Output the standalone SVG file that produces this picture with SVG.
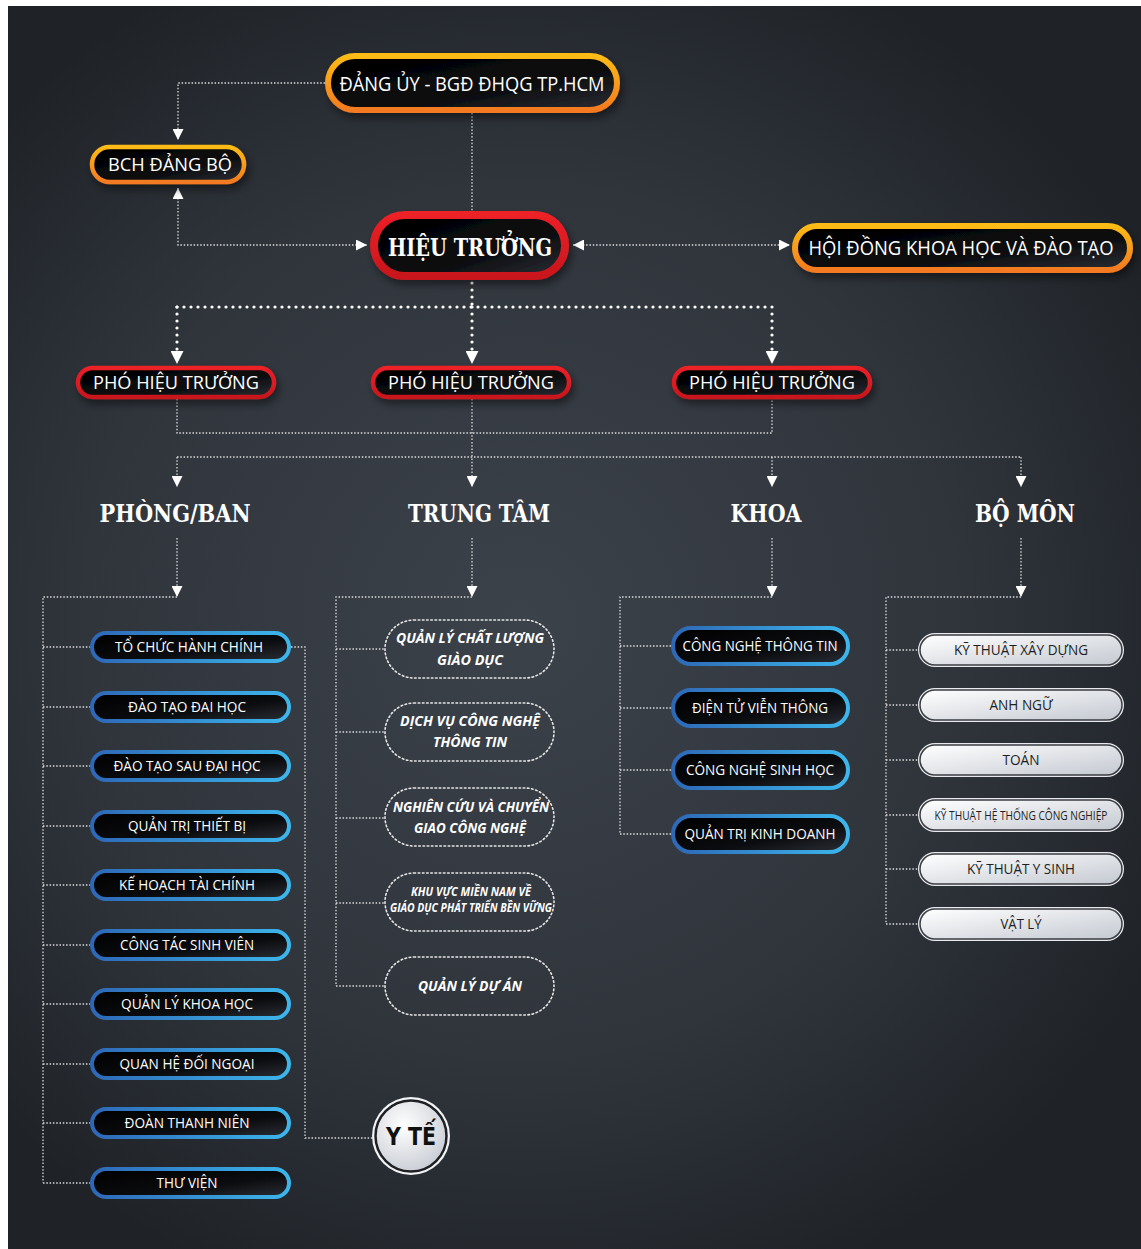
<svg xmlns="http://www.w3.org/2000/svg" width="1141" height="1249" viewBox="0 0 1141 1249">
<defs>
<radialGradient id="bg" cx="520" cy="620" r="720" gradientUnits="userSpaceOnUse">
<stop offset="0" stop-color="#3c424a"/><stop offset="0.6" stop-color="#30353c"/><stop offset="1" stop-color="#1f2328"/>
</radialGradient>
<linearGradient id="gOr" x1="0" y1="0" x2="0" y2="1"><stop offset="0" stop-color="#fdbb16"/><stop offset="1" stop-color="#f37a20"/></linearGradient>
<linearGradient id="gRed" x1="0" y1="0" x2="0" y2="1"><stop offset="0" stop-color="#ec2027"/><stop offset="1" stop-color="#c8171d"/></linearGradient>
<linearGradient id="gBlue" x1="0" y1="0" x2="1" y2="0"><stop offset="0" stop-color="#2d68b6"/><stop offset="1" stop-color="#3db6ec"/></linearGradient>
<linearGradient id="gBlk" x1="0" y1="0" x2="1" y2="1"><stop offset="0" stop-color="#000"/><stop offset="0.6" stop-color="#0b0c0f"/><stop offset="1" stop-color="#2a2e35"/></linearGradient>
<linearGradient id="gLt" x1="0" y1="0" x2="1" y2="1"><stop offset="0" stop-color="#ffffff"/><stop offset="1" stop-color="#c4c9d1"/></linearGradient>
<radialGradient id="gY" cx="0.4" cy="0.35" r="0.7"><stop offset="0" stop-color="#ffffff"/><stop offset="1" stop-color="#c8ccd3"/></radialGradient>
<filter id="sh" x="-20%" y="-40%" width="140%" height="190%"><feDropShadow dx="3" dy="5" stdDeviation="4" flood-color="#000" flood-opacity="0.45"/></filter>
<marker id="arr" viewBox="0 0 10 10" refX="10" refY="5" markerWidth="11" markerHeight="11" markerUnits="userSpaceOnUse" orient="auto-start-reverse"><path d="M0,0 L10,5 L0,10 z" fill="#fff"/></marker>
<marker id="arrB" viewBox="0 0 10 10" refX="10" refY="5" markerWidth="13" markerHeight="13" markerUnits="userSpaceOnUse" orient="auto-start-reverse"><path d="M0,0 L10,5 L0,10 z" fill="#fff"/></marker>
</defs>
<style>
.t{font-family:"Open Sans","Liberation Sans",sans-serif;fill:#fff;text-anchor:middle}
.tb{font-family:"DejaVu Serif","Liberation Serif",serif;font-weight:bold;fill:#fff;text-anchor:middle}
.ti{font-family:"Open Sans","Liberation Sans",sans-serif;font-style:italic;font-weight:bold;fill:#fff;text-anchor:middle}
.td{font-family:"Open Sans","Liberation Sans",sans-serif;fill:#1d1f23;text-anchor:middle}
.or{fill:url(#gBlk);stroke:url(#gOr);filter:url(#sh)}
.rd{fill:url(#gBlk);stroke:url(#gRed);filter:url(#sh)}
.bl{fill:url(#gBlk);stroke:url(#gBlue);stroke-width:4}
.lt{fill:url(#gLt);stroke:#3a3d42;stroke-width:1.5}
.ltw{fill:none;stroke:#e8eaee;stroke-width:4}
.dp{fill:none;stroke:#e6e6e6;stroke-width:1.6;stroke-dasharray:1.6 2.6;stroke-linecap:round}
.c{fill:none;stroke:#dcdcdc;stroke-width:1.3;stroke-dasharray:1.5 1.8}
.ct{fill:none;stroke:#fff;stroke-width:3.2;stroke-dasharray:0 7;stroke-linecap:round}
.an{fill:none;stroke:none}
</style>
<rect x="0" y="0" width="1141" height="1249" fill="#fff"/>
<rect x="8" y="6" width="1133" height="1243" fill="url(#bg)"/>

<g id="connectors">
<path class="c" d="M325,83 H178 V140" marker-end="url(#arr)"/>
<path class="c" d="M178,188 V245 H367" marker-start="url(#arr)" marker-end="url(#arr)"/>
<path class="c" d="M573,245 H790" marker-start="url(#arr)" marker-end="url(#arr)"/>
<path class="c" d="M472,113 V211"/>
<path class="ct" d="M472,283 V307 M177,307 H772"/>
<path class="ct" d="M177,307 V352"/>
<path class="ct" d="M472,307 V352"/>
<path class="ct" d="M772,307 V352"/>
<path class="an" d="M177,350 V364" marker-end="url(#arrB)"/>
<path class="an" d="M472,350 V364" marker-end="url(#arrB)"/>
<path class="an" d="M772,350 V364" marker-end="url(#arrB)"/>
<path class="c" d="M177,399 V433 H772 V399"/>
<path class="c" d="M472,399 V487" marker-end="url(#arr)"/>
<path class="c" d="M177,457 H1021"/>
<path class="c" d="M177,457 V487" marker-end="url(#arr)"/>
<path class="c" d="M772,457 V487" marker-end="url(#arr)"/>
<path class="c" d="M1021,457 V487" marker-end="url(#arr)"/>
<path class="c" d="M177,538 V597" marker-end="url(#arr)"/>
<path class="c" d="M472,538 V597" marker-end="url(#arr)"/>
<path class="c" d="M772,538 V597" marker-end="url(#arr)"/>
<path class="c" d="M1021,538 V597" marker-end="url(#arr)"/>
<path class="c" d="M177,597 H43 V1183 M43,647 H90 M43,707 H90 M43,766 H90 M43,826 H90 M43,885 H90 M43,945 H90 M43,1004 H90 M43,1064 H90 M43,1123 H90 M43,1183 H90"/>
<path class="c" d="M291,647 H305 V1138 H373"/>
<path class="c" d="M472,597 H336 V986 M336,649 H385 M336,732 H385 M336,818 H385 M336,903 H385 M336,986 H385"/>
<path class="c" d="M772,597 H620 V834 M620,646 H671 M620,708 H671 M620,770 H671 M620,834 H671"/>
<path class="c" d="M1021,597 H886 V924 M886,650 H918 M886,705 H918 M886,760 H918 M886,815 H918 M886,869 H918 M886,924 H918"/>
</g>

<g id="n-danguy"><rect class="or" x="328" y="56" width="289" height="54" rx="27" stroke-width="6"/><text class="t" x="472" y="91" font-size="20" textLength="265" lengthAdjust="spacingAndGlyphs">ĐẢNG ỦY - BGĐ ĐHQG TP.HCM</text></g>
<g id="n-bch"><rect class="or" x="92" y="147" width="152" height="35" rx="17.5" stroke-width="4.5"/><text class="t" x="170" y="171" font-size="19" textLength="124" lengthAdjust="spacingAndGlyphs">BCH ĐẢNG BỘ</text></g>
<g id="n-hieutruong"><rect class="rd" x="374" y="215" width="191" height="61" rx="30.5" stroke-width="8"/><text class="tb" x="470" y="256" font-size="25" textLength="164" lengthAdjust="spacingAndGlyphs">HIỆU TRƯỞNG</text></g>
<g id="n-hoidong"><rect class="or" x="795" y="226" width="335" height="44" rx="22" stroke-width="6"/><text class="t" x="961" y="255" font-size="20" textLength="305" lengthAdjust="spacingAndGlyphs">HỘI ĐỒNG KHOA HỌC VÀ ĐÀO TẠO</text></g>

<g id="n-pho1"><rect class="rd" x="78" y="368" width="196" height="29" rx="14.5" stroke-width="4.5"/><text class="t" x="176" y="389" font-size="18" textLength="166" lengthAdjust="spacingAndGlyphs">PHÓ HIỆU TRƯỞNG</text></g>
<g id="n-pho2"><rect class="rd" x="373" y="368" width="196" height="29" rx="14.5" stroke-width="4.5"/><text class="t" x="471" y="389" font-size="18" textLength="166" lengthAdjust="spacingAndGlyphs">PHÓ HIỆU TRƯỞNG</text></g>
<g id="n-pho3"><rect class="rd" x="674" y="368" width="196" height="29" rx="14.5" stroke-width="4.5"/><text class="t" x="772" y="389" font-size="18" textLength="166" lengthAdjust="spacingAndGlyphs">PHÓ HIỆU TRƯỞNG</text></g>

<g id="h-phongban"><text class="tb" x="175" y="522" font-size="24" textLength="151" lengthAdjust="spacingAndGlyphs">PHÒNG/BAN</text></g>
<g id="h-trungtam"><text class="tb" x="479" y="522" font-size="24" textLength="142" lengthAdjust="spacingAndGlyphs">TRUNG TÂM</text></g>
<g id="h-khoa"><text class="tb" x="766" y="522" font-size="24" textLength="71" lengthAdjust="spacingAndGlyphs">KHOA</text></g>
<g id="h-bomon"><text class="tb" x="1025" y="522" font-size="24" textLength="100" lengthAdjust="spacingAndGlyphs">BỘ MÔN</text></g>

<g id="n-pb1"><rect class="bl" x="92" y="633" width="197" height="28" rx="14"/><text class="t" x="189" y="652" font-size="15" textLength="148" lengthAdjust="spacingAndGlyphs">TỔ CHỨC HÀNH CHÍNH</text></g>
<g id="n-pb2"><rect class="bl" x="92" y="693" width="197" height="28" rx="14"/><text class="t" x="187" y="712" font-size="15" textLength="118" lengthAdjust="spacingAndGlyphs">ĐÀO TẠO ĐAI HỌC</text></g>
<g id="n-pb3"><rect class="bl" x="92" y="752" width="197" height="28" rx="14"/><text class="t" x="187" y="771" font-size="15" textLength="147" lengthAdjust="spacingAndGlyphs">ĐÀO TẠO SAU ĐẠI HỌC</text></g>
<g id="n-pb4"><rect class="bl" x="92" y="812" width="197" height="28" rx="14"/><text class="t" x="187" y="831" font-size="15" textLength="118" lengthAdjust="spacingAndGlyphs">QUẢN TRỊ THIẾT BỊ</text></g>
<g id="n-pb5"><rect class="bl" x="92" y="871" width="197" height="28" rx="14"/><text class="t" x="187" y="890" font-size="15" textLength="136" lengthAdjust="spacingAndGlyphs">KẾ HOẠCH TÀI CHÍNH</text></g>
<g id="n-pb6"><rect class="bl" x="92" y="931" width="197" height="28" rx="14"/><text class="t" x="187" y="950" font-size="15" textLength="134" lengthAdjust="spacingAndGlyphs">CÔNG TÁC SINH VIÊN</text></g>
<g id="n-pb7"><rect class="bl" x="92" y="990" width="197" height="28" rx="14"/><text class="t" x="187" y="1009" font-size="15" textLength="132" lengthAdjust="spacingAndGlyphs">QUẢN LÝ KHOA HỌC</text></g>
<g id="n-pb8"><rect class="bl" x="92" y="1050" width="197" height="28" rx="14"/><text class="t" x="187" y="1069" font-size="15" textLength="135" lengthAdjust="spacingAndGlyphs">QUAN HỆ ĐỐI NGOẠI</text></g>
<g id="n-pb9"><rect class="bl" x="92" y="1109" width="197" height="28" rx="14"/><text class="t" x="187" y="1128" font-size="15" textLength="125" lengthAdjust="spacingAndGlyphs">ĐOÀN THANH NIÊN</text></g>
<g id="n-pb10"><rect class="bl" x="92" y="1169" width="197" height="28" rx="14"/><text class="t" x="187" y="1188" font-size="15" textLength="61" lengthAdjust="spacingAndGlyphs">THƯ VIỆN</text></g>

<g id="n-yte"><circle cx="411" cy="1136" r="39" fill="#f2f3f5"/><circle cx="411" cy="1136" r="35.5" fill="url(#gY)" stroke="#1e2024" stroke-width="2.5"/><text x="411" y="1145" font-family="DejaVu Sans, sans-serif" font-weight="bold" font-size="24" fill="#111" text-anchor="middle" textLength="50" lengthAdjust="spacingAndGlyphs">Y TẾ</text></g>

<g id="n-tt1"><rect class="dp" x="385" y="620" width="169" height="58" rx="29"/><text class="ti" font-size="15"><tspan x="470" y="643" textLength="148" lengthAdjust="spacingAndGlyphs">QUẢN LÝ CHẤT LƯỢNG</tspan><tspan x="470" y="665" textLength="66" lengthAdjust="spacingAndGlyphs">GIÀO DỤC</tspan></text></g>
<g id="n-tt2"><rect class="dp" x="385" y="703" width="169" height="58" rx="29"/><text class="ti" font-size="15"><tspan x="470" y="726" textLength="140" lengthAdjust="spacingAndGlyphs">DỊCH VỤ CÔNG NGHỆ</tspan><tspan x="470" y="747" textLength="74" lengthAdjust="spacingAndGlyphs">THÔNG TIN</tspan></text></g>
<g id="n-tt3"><rect class="dp" x="385" y="788" width="169" height="58" rx="29"/><text class="ti" font-size="15"><tspan x="471" y="812" textLength="156" lengthAdjust="spacingAndGlyphs">NGHIÊN CỨU VÀ CHUYỂN</tspan><tspan x="470" y="833" textLength="112" lengthAdjust="spacingAndGlyphs">GIAO CÔNG NGHỆ</tspan></text></g>
<g id="n-tt4"><rect class="dp" x="385" y="873" width="169" height="58" rx="29"/><text class="ti" font-size="11.5"><tspan x="471" y="896" textLength="120" lengthAdjust="spacingAndGlyphs">KHU VỰC MIỀN NAM VỀ</tspan><tspan x="471" y="912" textLength="162" lengthAdjust="spacingAndGlyphs">GIÁO DỤC PHÁT TRIỂN BỀN VỮNG</tspan></text></g>
<g id="n-tt5"><rect class="dp" x="385" y="957" width="169" height="58" rx="29"/><text class="ti" x="470" y="991" font-size="15" textLength="104" lengthAdjust="spacingAndGlyphs">QUẢN LÝ DỰ ÁN</text></g>

<g id="n-k1"><rect class="bl" x="673" y="628" width="175" height="36" rx="18"/><text class="t" x="760" y="651" font-size="15" textLength="155" lengthAdjust="spacingAndGlyphs">CÔNG NGHỆ THÔNG TIN</text></g>
<g id="n-k2"><rect class="bl" x="673" y="690" width="175" height="36" rx="18"/><text class="t" x="760" y="713" font-size="15" textLength="136" lengthAdjust="spacingAndGlyphs">ĐIỆN TỬ VIỄN THÔNG</text></g>
<g id="n-k3"><rect class="bl" x="673" y="752" width="175" height="36" rx="18"/><text class="t" x="760" y="775" font-size="15" textLength="148" lengthAdjust="spacingAndGlyphs">CÔNG NGHỆ SINH HỌC</text></g>
<g id="n-k4"><rect class="bl" x="673" y="816" width="175" height="36" rx="18"/><text class="t" x="760" y="839" font-size="15" textLength="151" lengthAdjust="spacingAndGlyphs">QUẢN TRỊ KINH DOANH</text></g>

<g id="n-bm1"><rect class="ltw" x="920" y="635" width="202" height="30" rx="15"/><rect class="lt" x="920" y="635" width="202" height="30" rx="15"/><text class="td" x="1021" y="655" font-size="14.5" textLength="134" lengthAdjust="spacingAndGlyphs">KỸ THUẬT XÂY DỰNG</text></g>
<g id="n-bm2"><rect class="ltw" x="920" y="690" width="202" height="30" rx="15"/><rect class="lt" x="920" y="690" width="202" height="30" rx="15"/><text class="td" x="1021" y="710" font-size="14.5" textLength="63" lengthAdjust="spacingAndGlyphs">ANH NGỮ</text></g>
<g id="n-bm3"><rect class="ltw" x="920" y="745" width="202" height="30" rx="15"/><rect class="lt" x="920" y="745" width="202" height="30" rx="15"/><text class="td" x="1021" y="765" font-size="14.5" textLength="37" lengthAdjust="spacingAndGlyphs">TOÁN</text></g>
<g id="n-bm4"><rect class="ltw" x="920" y="800" width="202" height="30" rx="15"/><rect class="lt" x="920" y="800" width="202" height="30" rx="15"/><text class="td" transform="translate(1021,820) scale(0.72,1)" x="0" y="0" font-size="13.5" textLength="240" lengthAdjust="spacingAndGlyphs">KỸ THUẬT HỆ THỐNG CÔNG NGHIỆP</text></g>
<g id="n-bm5"><rect class="ltw" x="920" y="854" width="202" height="30" rx="15"/><rect class="lt" x="920" y="854" width="202" height="30" rx="15"/><text class="td" x="1021" y="874" font-size="14.5" textLength="108" lengthAdjust="spacingAndGlyphs">KỸ THUẬT Y SINH</text></g>
<g id="n-bm6"><rect class="ltw" x="920" y="909" width="202" height="30" rx="15"/><rect class="lt" x="920" y="909" width="202" height="30" rx="15"/><text class="td" x="1021" y="929" font-size="14.5" textLength="41" lengthAdjust="spacingAndGlyphs">VẬT LÝ</text></g>
</svg>
